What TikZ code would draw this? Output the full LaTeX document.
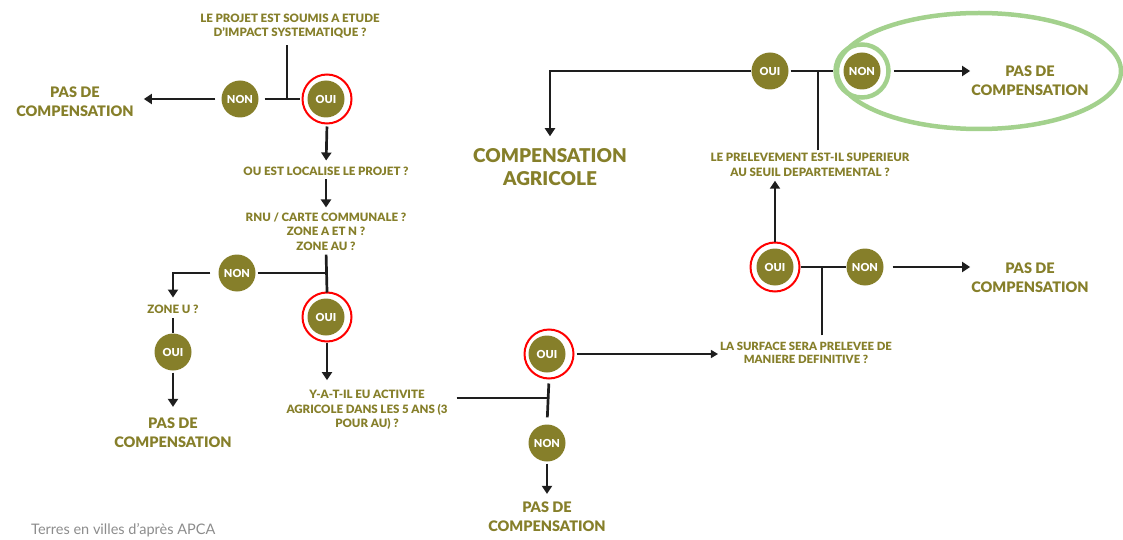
\documentclass[tikz,border=0pt]{standalone}
\usepackage{fontspec}
\setmainfont{Lato}[BoldFont={Lato Black}]
\usetikzlibrary{arrows.meta,shapes.geometric}
\definecolor{olive}{RGB}{134,127,42}
\definecolor{ink}{RGB}{30,30,30}
\definecolor{lgreen}{RGB}{163,209,141}
\definecolor{foot}{RGB}{140,140,140}
\tikzset{
  qtext/.style={text=olive, font=\bfseries\fontsize{11.5}{14.5}\selectfont, align=center, inner sep=0pt},
  qsmall/.style={qtext, font=\bfseries\fontsize{11.3}{12.7}\selectfont},
  restext/.style={text=olive, font=\bfseries\fontsize{14.5}{19}\selectfont, align=center, inner sep=0pt},
  bigtext/.style={text=olive, font=\bfseries\fontsize{19}{23}\selectfont, align=center, inner sep=0pt},
  yn/.style={circle, fill=olive, minimum size=37pt, inner sep=0pt, text=white, font=\bfseries\fontsize{11}{11}\selectfont},
  redring/.style={circle, draw=red, line width=2pt, minimum size=49pt, inner sep=0pt},
  greenring/.style={circle, draw=lgreen, line width=4.5pt, minimum size=53pt, inner sep=0pt},
  conn/.style={draw=ink, line width=2.7pt},
  arr/.style={conn, -{Triangle[length=8pt,width=10pt]}},
  thinarr/.style={draw=ink, line width=1.3pt, -{Triangle[length=7pt,width=8pt]}},
}
\begin{document}
\begin{tikzpicture}[x=1pt,y=-1pt]
\useasboundingbox (0,0) rectangle (1123,540);

% ---- left column ----
\node[qtext] (q1) at (290,26) {LE PROJET EST SOUMIS A ETUDE\\D'IMPACT SYSTEMATIQUE ?};
\node[yn] (non1) at (240,99) {NON};
\node[yn] (oui1) at (326,99) {OUI};
\node[redring] (r1) at (327,99) {};
\node[restext] (pas1) at (75,102) {PAS DE\\COMPENSATION};
\coordinate (j1) at (287,99);

\draw[conn, shorten <=7pt] (q1.south -| j1) -- (j1);
\draw[conn, shorten <=6pt, shorten >=2pt] (non1.east) -- (r1.west);
\draw[arr, shorten <=6pt, shorten >=10pt] (non1.west) -- (non1.west -| pas1.east);

\node[qtext] (q2) at (326,171) {OU EST LOCALISE LE PROJET ?};
\draw[arr, shorten <=2pt, shorten >=6pt] (r1.south) -- (q2.north);

\node[qtext] (q3) at (326,231.5) {RNU / CARTE COMMUNALE ?\\ZONE A ET N ?\\ZONE AU ?};
\draw[arr, shorten <=4pt, shorten >=5pt] (q2.south) -- (q3.north);

\node[yn] (oui2) at (326,317) {OUI};
\node[redring] (r2) at (327,317) {};
\node[yn] (non2) at (237,273) {NON};
\coordinate (j2) at (326,273);
\draw[conn, shorten <=4pt, shorten >=-1pt] (q3.south) -- (r2.north);
\draw[conn, shorten <=2pt] (non2.east) -- (j2);

\node[qtext] (zu) at (173,309) {ZONE U ?};
\draw[arr, shorten <=8pt, shorten >=7pt] (non2.west) -| (zu.north);
\node[yn] (oui3) at (173,352) {OUI};
\draw[conn, shorten <=5pt] (zu.south) -- (oui3.north);
\node[restext] (pas2) at (173,433) {PAS DE\\COMPENSATION};
\draw[arr, shorten <=2pt, shorten >=11pt] (oui3.south) -- (pas2.north);

\node[qtext] (q4) at (367,410) {Y-A-T-IL EU ACTIVITE\\AGRICOLE DANS LES 5 ANS (3\\POUR AU) ?};
\draw[arr, shorten <=0pt, shorten >=10pt] (r2.south) -- (r2.south |- q4.north);

% ---- middle ----
\node[yn] (oui4) at (547,354) {OUI};
\node[redring] (r4) at (549,354) {};
\node[yn] (non4) at (547,443) {NON};
\coordinate (j3) at (547,398);
\draw[conn, shorten <=9pt] (q4.east |- j3) -- (j3);
\draw[conn, shorten <=4pt, shorten >=7pt] (r4.south) -- (non4.north);
\node[restext] (pas3) at (547,517) {PAS DE\\COMPENSATION};
\draw[arr, shorten <=2pt, shorten >=8pt] (non4.south) -- (pas3.north);

\node[qsmall] (q5) at (806,353) {LA SURFACE SERA PRELEVEE DE\\MANIERE DEFINITIVE ?};
\draw[thinarr, shorten <=2pt, shorten >=2pt] (r4.east) -- (r4.east -| q5.west);

% ---- right ----
\node[yn] (oui5) at (775,267) {OUI};
\node[redring] (r5) at (775,267) {};
\node[yn] (non5) at (865,267) {NON};
\coordinate (j5) at (822,267);
\draw[conn, shorten <=7pt] (q5.north -| j5) -- (j5);
\draw[conn] (r5.east) -- (non5.west);
\node[restext] (pas5) at (1030,278) {PAS DE\\COMPENSATION};
\draw[arr, shorten <=9pt, shorten >=1pt] (non5.east) -- (non5.east -| pas5.west);

\node[qtext] (q6) at (810,165) {LE PRELEVEMENT EST-IL SUPERIEUR\\AU SEUIL DEPARTEMENTAL ?};
\draw[arr, shorten <=0pt, shorten >=4pt] (r5.north) -- (r5.north |- q6.south);

\node[yn] (oui6) at (770,71) {OUI};
\node[yn] (non6) at (862,71) {NON};
\node[greenring] (g6) at (862,71) {};
\coordinate (j6) at (818,71);
\draw[conn, shorten <=3pt] (q6.north -| j6) -- (j6);
\draw[conn, shorten <=2pt, shorten >=0pt] (oui6.east) -- (g6.west);
\node[restext] (pas6) at (1030,81) {PAS DE\\COMPENSATION};
\draw[arr, shorten <=3pt, shorten >=1pt] (g6.east) -- (g6.east -| pas6.west);
\node[draw=lgreen, line width=4.5pt, ellipse, minimum width=284pt, minimum height=116pt] (ell) at (979,71) {};

\node[bigtext] (ca) at (550,167) {COMPENSATION\\AGRICOLE};
\draw[arr, shorten <=0pt, shorten >=12pt] (oui6.west) -| (ca.north);

\node[text=foot, font=\fontsize{14.5}{16}\selectfont, anchor=west, inner sep=0pt] (src) at (31,530) {Terres en villes d'après APCA};
\end{tikzpicture}
\end{document}
